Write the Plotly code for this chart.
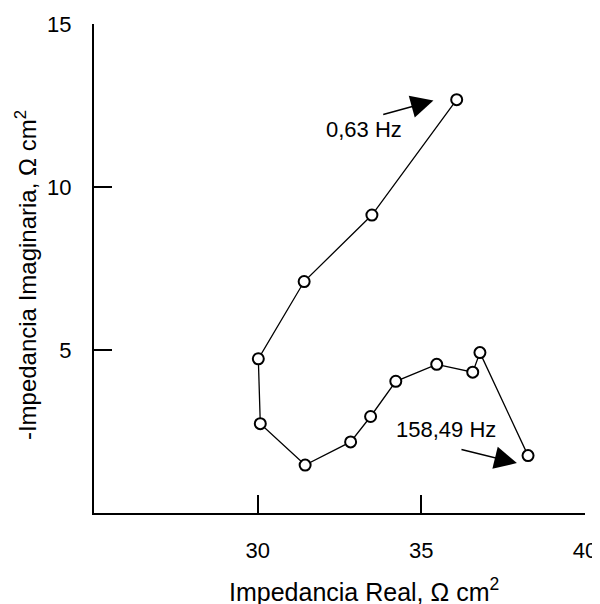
import plotly.graph_objects as go

# Data (Nyquist plot)
z_real = [36.08, 33.49, 31.42, 30.02, 30.08, 31.45, 32.84, 33.45, 34.22, 35.47, 36.57, 36.79, 38.26]
z_imag = [12.68, 9.14, 7.10, 4.73, 2.74, 1.47, 2.18, 2.96, 4.04, 4.56, 4.32, 4.92, 1.76]

x_ticks = [30, 35, 40]
y_ticks = [5, 10, 15]

low_label = "0,63 Hz"
high_label = "158,49 Hz"
x_title = "Impedancia Real, Ω cm<sup>2</sup>"
y_title = "-Impedancia Imaginaria, Ω cm<sup>2</sup>"

FONT = "Liberation Sans"

fig = go.Figure()
fig.add_trace(go.Scatter(
    x=z_real, y=z_imag, mode="lines+markers",
    line=dict(color="black", width=1.3),
    marker=dict(symbol="circle", size=11, color="white",
                line=dict(color="black", width=2)),
    showlegend=False, hoverinfo="skip",
))

# Arrow annotations
fig.add_annotation(x=35.37, y=12.65, ax=33.79, ay=12.21,
                   xref="x", yref="y", axref="x", ayref="y",
                   showarrow=True, arrowhead=2, arrowsize=3, arrowwidth=1.5,
                   arrowcolor="black", text="")
fig.add_annotation(x=33.25, y=11.75, xref="x", yref="y", text=low_label,
                   showarrow=False, font=dict(family=FONT, size=22, color="black"))
fig.add_annotation(x=37.92, y=1.53, ax=36.18, ay=1.96,
                   xref="x", yref="y", axref="x", ayref="y",
                   showarrow=True, arrowhead=2, arrowsize=3, arrowwidth=1.5,
                   arrowcolor="black", text="")
fig.add_annotation(x=35.75, y=2.55, xref="x", yref="y", text=high_label,
                   showarrow=False, font=dict(family=FONT, size=22, color="black"))

# Axis titles (placed as annotations to match reference position)
fig.add_annotation(x=0.55, y=-0.158, xref="paper", yref="paper", text=x_title,
                   showarrow=False, xanchor="center", yanchor="middle",
                   font=dict(family=FONT, size=25, color="black"))
fig.add_annotation(x=-0.138, y=0.487, xref="paper", yref="paper", text=y_title,
                   showarrow=False, xanchor="center", yanchor="middle", textangle=-90,
                   font=dict(family=FONT, size=24, color="black"))

axis_common = dict(
    showgrid=False, zeroline=False, showline=True, linecolor="black", linewidth=2,
    ticks="inside", ticklen=18, tickwidth=2, tickcolor="black",
    tickfont=dict(family=FONT, size=22, color="black"),
    automargin=False,
)

fig.update_xaxes(range=[25, 40], tickvals=x_ticks, ticktext=[str(v) for v in x_ticks],
                 ticklabelstandoff=17, **axis_common)
fig.update_yaxes(range=[0, 15], tickvals=y_ticks, ticktext=[str(v) for v in y_ticks],
                 ticklabelstandoff=16, **axis_common)

# The page body adds an 8px offset, so margins are shifted to compensate.
fig.update_layout(
    width=600, height=604,
    margin=dict(l=86, r=23, t=16, b=99),
    plot_bgcolor="white", paper_bgcolor="white",
)

fig.write_html("out.html")
